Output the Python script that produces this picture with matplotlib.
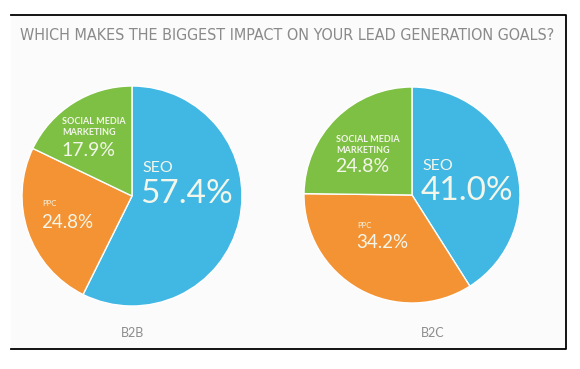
import matplotlib.pyplot as plt
from matplotlib import font_manager

title = "WHICH MAKES THE BIGGEST IMPACT ON YOUR LEAD GENERATION GOALS?"
categories = ["SEO", "PPC", "SOCIAL MEDIA\nMARKETING"]
b2b_values = [57.4, 24.8, 17.9]
b2c_values = [41.0, 34.2, 24.8]
group_labels = ["B2B", "B2C"]
colors = ["#41b7e4", "#f39334", "#7dc043"]
text_color = "#f3f6ea"

W, H = 580, 369
names = {f.name for f in font_manager.fontManager.ttflist}
label_font = "Lato" if "Lato" in names else "DejaVu Sans"

fig = plt.figure(figsize=(W / 100, H / 100), dpi=100)
ax = fig.add_axes([0, 0, 1, 1])
ax.set_xlim(0, W)
ax.set_ylim(0, H)
ax.set_aspect("equal")


def py(y):
    # image pixel row -> plot coordinate
    return H - y


# off-white panel and the three-sided frame
ax.add_patch(plt.Rectangle((11, py(349)), 555, 334, color="#fbfbfb", zorder=0))
ax.plot([11, 566, 566, 11], [py(15), py(15), py(349), py(349)], color="black", lw=1.3)

t = ax.text(20, py(35), title, fontsize=12, color="#8a8a8a", family="DejaVu Sans",
            fontstretch="condensed", va="center", ha="left")
# shrink the title until it fits the box width
r = fig.canvas.get_renderer()
w = t.get_window_extent(r).width
if w > 535:
    t.set_fontsize(12 * 535 / w)

pies = [
    (b2b_values, (132, py(196)), 110),
    (b2c_values, (412, py(195)), 108),
]
for vals, center, rad in pies:
    ax.pie(vals, colors=colors, startangle=90, counterclock=False,
           center=center, radius=rad, frame=True,
           wedgeprops=dict(edgecolor="white", linewidth=1.0))

# small labels and percentages (left aligned, image pixel positions)
layout = [
    # (values, index, name xy, pct xy, name size, pct size)
    (b2b_values, 0, (142, 168), (140, 194), 11.5, 24),
    (b2b_values, 1, (42, 203), (41, 222), 5.5, 13.5),
    (b2b_values, 2, (62, 127), (61, 151), 6.5, 14),
    (b2c_values, 0, (422, 166), (421, 191), 11.5, 24),
    (b2c_values, 1, (357, 225), (356, 243), 5.5, 13.5),
    (b2c_values, 2, (336, 145), (335, 167), 6.5, 14),
]
for vals, i, nxy, pxy, ns, ps in layout:
    ax.text(nxy[0], py(nxy[1]), categories[i], fontsize=ns, color=text_color,
            family=label_font, fontweight="bold" if i == 2 else "normal",
            ha="left", va="center", linespacing=1.2)
    ax.text(pxy[0], py(pxy[1]), f"{vals[i]:.1f}%", fontsize=ps, color=text_color,
            family=label_font, ha="left", va="center")

for lbl, x in zip(group_labels, [132, 433]):
    ax.text(x, py(333), lbl, fontsize=9, color="#8c8c8c", family=label_font,
            ha="center", va="center")

ax.set_xlim(0, W)
ax.set_ylim(0, H)
ax.set_aspect("equal")
ax.axis("off")

fig.savefig("out.png", dpi=100, facecolor="white")
